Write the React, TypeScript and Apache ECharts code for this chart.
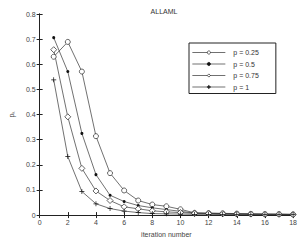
import React, { useEffect, useRef } from "react";
import * as echarts from "echarts";

const iterations = [1, 2, 3, 4, 5, 6, 7, 8, 9, 10, 11, 12, 13, 14, 15, 16, 17, 18];
const p025 = [0.63, 0.689, 0.571, 0.314, 0.167, 0.098, 0.058, 0.042, 0.035, 0.023, 0.009, 0.008, 0.007, 0.006, 0.005, 0.004, 0.004, 0.003];
const p05 = [0.706, 0.571, 0.325, 0.161, 0.079, 0.054, 0.038, 0.029, 0.022, 0.015, 0.008, 0.007, 0.006, 0.005, 0.004, 0.004, 0.003, 0.003];
const p075 = [0.658, 0.391, 0.186, 0.096, 0.058, 0.033, 0.025, 0.017, 0.013, 0.01, 0.007, 0.006, 0.005, 0.004, 0.004, 0.003, 0.003, 0.002];
const p1 = [0.538, 0.233, 0.094, 0.045, 0.026, 0.016, 0.01, 0.006, 0.005, 0.004, 0.003, 0.003, 0.002, 0.002, 0.002, 0.002, 0.002, 0.002];
const seriesNames = ["p = 0.25", "p = 0.5", "p = 0.75", "p = 1"];
const yTicks = [0, 0.1, 0.2, 0.3, 0.4, 0.5, 0.6, 0.7, 0.8];

const PLUS = "path://M4.3,0H5.7V4.3H10V5.7H5.7V10H4.3V5.7H0V4.3H4.3Z";

export default function App() {
  const ref = useRef<HTMLDivElement>(null);
  useEffect(() => {
    if (!ref.current) return;
    const chart = echarts.init(ref.current, null, { renderer: "svg" });
    const pair = (arr: number[]) => iterations.map((x, i) => [x, arr[i]]);
    const lineColor = "#333";
    const mk = (name: string, arr: number[], symbol: string, size: number, filled: boolean) => ({
      name,
      type: "line",
      data: pair(arr),
      symbol,
      symbolSize: size,
      showAllSymbol: true,
      lineStyle: { color: lineColor, width: 0.7 },
      itemStyle: filled
        ? { color: "#111", borderColor: "#111", borderWidth: 0 }
        : { color: "#fff", borderColor: "#222", borderWidth: 0.7 },
      emphasis: { disabled: true },
    });
    const axisLabel = { fontSize: 7, color: "#444", fontFamily: "Liberation Sans" };
    chart.setOption({
      animation: false,
      backgroundColor: "#fff",
      title: {
        text: "ALLAML",
        left: 159,
        top: 3,
        textAlign: "center",
        textStyle: { fontSize: 7, fontWeight: "normal", color: "#333", fontFamily: "Liberation Sans" },
      },
      legend: {
        data: seriesNames,
        orient: "vertical",
        left: 189,
        top: 43,
        itemWidth: 33,
        itemHeight: 4,
        itemGap: 4.5,
        padding: [6, 17, 3, 3],
        borderColor: "#222",
        borderWidth: 1,
        backgroundColor: "#fff",
        lineStyle: { width: 0.7 },
        itemStyle: { borderWidth: 0.7 },
        textStyle: { fontSize: 7, color: "#333", fontFamily: "Liberation Sans", padding: [0, 0, 0, 3] },
      },
      grid: { left: 24, right: 6, top: 14, bottom: 17, containLabel: false },
      xAxis: [
        {
          type: "value",
          min: 0,
          max: 18,
          interval: 2,
          name: "iteration number",
          nameLocation: "middle",
          nameGap: 13,
          nameTextStyle: { fontSize: 7, color: "#444", fontFamily: "Liberation Sans" },
          axisLine: { lineStyle: { color: "#222", width: 1 } },
          axisTick: { inside: true, length: 3, lineStyle: { color: "#222" } },
          axisLabel: { ...axisLabel, margin: 4 },
          splitLine: { show: false },
        },
        {
          type: "value",
          position: "top",
          min: 0,
          max: 18,
          interval: 2,
          axisLine: { show: true, lineStyle: { color: "#222", width: 1 } },
          axisTick: { inside: true, length: 3, lineStyle: { color: "#222" } },
          axisLabel: { show: false },
          splitLine: { show: false },
        },
      ],
      yAxis: [
        {
          type: "value",
          min: 0,
          max: 0.8,
          interval: 0.1,
          name: "p\u2096",
          nameLocation: "middle",
          nameGap: 18,
          nameRotate: 90,
          nameTextStyle: { fontSize: 7, color: "#444", fontFamily: "Liberation Sans" },
          axisLine: { show: true, lineStyle: { color: "#222", width: 1 } },
          axisTick: { inside: true, length: 3, lineStyle: { color: "#222" } },
          axisLabel: {
            ...axisLabel,
            margin: 4,
            formatter: (v: number) => (yTicks.includes(+v.toFixed(1)) ? (v === 0 ? "0" : v.toFixed(1)) : ""),
          },
          splitLine: { show: false },
        },
        {
          type: "value",
          position: "right",
          min: 0,
          max: 0.8,
          interval: 0.1,
          axisLine: { show: true, lineStyle: { color: "#222", width: 1 } },
          axisTick: { inside: true, length: 3, lineStyle: { color: "#222" } },
          axisLabel: { show: false },
          splitLine: { show: false },
        },
      ],
      series: [
        mk(seriesNames[0], p025, "circle", 5, false),
        mk(seriesNames[1], p05, "circle", 3, true),
        mk(seriesNames[2], p075, "diamond", 6, false),
        mk(seriesNames[3], p1, PLUS, 5, true),
      ],
    });
    return () => chart.dispose();
  }, []);
  return <div ref={ref} style={{ width: 300, height: 243, position: "absolute", left: 0, top: 0 }} />;
}
